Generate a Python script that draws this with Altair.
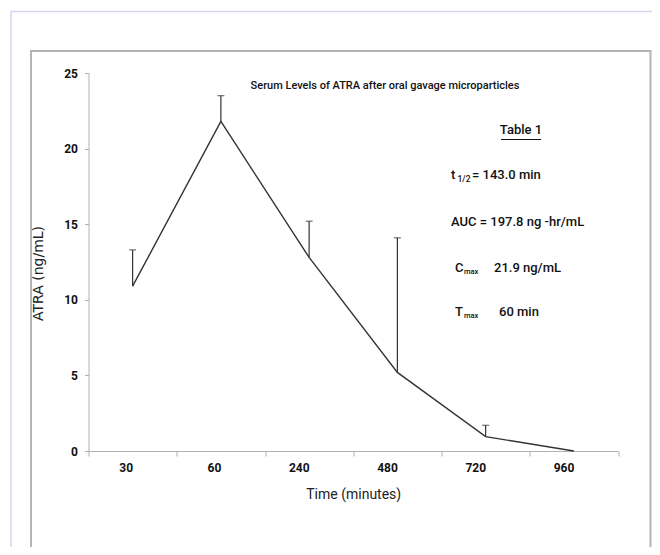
import altair as alt
import pandas as pd

times = ["30", "60", "240", "480", "720", "960"]
mean_vals = [10.9, 21.8, 12.8, 5.2, 0.95, 0.0]
upper_vals = [13.3, 23.5, 15.2, 14.1, 1.7, None]

title_text = "Serum Levels of ATRA after oral gavage microparticles"
table_title = "Table 1"
ann_main = ["t", "= 143.0 min", "AUC = 197.8 ng -hr/mL", "C", "21.9 ng/mL", "T", "60 min"]
ann_sub = ["1/2", "max", "max"]

FONT = "Roboto"

df = pd.DataFrame({"time": times, "mean": mean_vals, "upper": upper_vals})
err = df.dropna()

W, H = 529.5, 378
OX, OY = 88.5, 73  # page position of plot origin

def px(x):
    return x - OX

def py(y):
    return y - OY

xscale = alt.Scale(domain=times, paddingInner=0, paddingOuter=0)
yscale = alt.Scale(domain=[0, 25], nice=False)

xenc = alt.X("time:N", scale=xscale, sort=times,
             axis=alt.Axis(title="Time (minutes)", labelAngle=0, tickBand="extent",
                           labelFont=FONT, labelFontWeight="bold", labelFontSize=12,
                           labelColor="#111", labelPadding=11, tickSize=5,
                           domainColor="#b0b0b0", tickColor="#b0b0b0",
                           titleFont=FONT, titleFontWeight="normal", titleFontSize=14,
                           titleColor="#222", titlePadding=14))

line = alt.Chart(df).mark_line(color="#333", strokeWidth=1.4).encode(
    x=xenc,
    y=alt.Y("mean:Q", scale=yscale,
            axis=alt.Axis(title="ATRA  (ng/mL)", values=[0, 5, 10, 15, 20, 25],
                          labelFont=FONT, labelFontWeight="bold", labelFontSize=12,
                          labelColor="#111", labelPadding=7, tickSize=4,
                          domainColor="#b0b0b0", tickColor="#b0b0b0", grid=False,
                          titleFont="DejaVu Sans", titleFontWeight="normal",
                          titleFontSize=14, titleColor="#222",
                          titleX=px(38), titleY=py(273), titleAngle=270,
                          titleAlign="center", titleBaseline="middle")),
)

rules = alt.Chart(err).mark_rule(color="#333", strokeWidth=1.2).encode(
    x=alt.X("time:N", scale=xscale, sort=times),
    y="mean:Q", y2="upper:Q",
)
caps = alt.Chart(err).mark_tick(color="#333", orient="horizontal", size=7, thickness=1.2).encode(
    x=alt.X("time:N", scale=xscale, sort=times),
    y=alt.Y("upper:Q", scale=yscale),
)

frame_outer = alt.Chart(pd.DataFrame({"a": [0]})).mark_rect(
    fill=None, stroke="#d4d4f2", strokeWidth=1.5).encode(
    x=alt.value(px(11)), x2=alt.value(px(700)), y=alt.value(py(11.5)), y2=alt.value(py(700)))
frame_inner = alt.Chart(pd.DataFrame({"a": [0]})).mark_rect(
    fill=None, stroke="#b4b4b4", strokeWidth=2).encode(
    x=alt.value(px(31)), x2=alt.value(px(650.5)), y=alt.value(py(51)), y2=alt.value(py(700)))

def txt(s, x, y, size=14, weight=500, align="left"):
    return alt.Chart(pd.DataFrame({"t": [s]})).mark_text(
        font=FONT, fontSize=size, fontWeight=weight, align=align, baseline="middle",
        color="#111").encode(text="t:N", x=alt.value(px(x)), y=alt.value(py(y)))

texts = [
    txt(title_text, 385, 86, size=11, align="center"),
    txt(table_title, 521, 130, size=13, align="center"),
    txt(ann_main[0], 451, 175, size=13),
    txt(ann_sub[0], 457.5, 179, size=8.5),
    txt(ann_main[1], 472, 175, size=13),
    txt(ann_main[2], 451, 222, size=13),
    txt(ann_main[3], 455, 268, size=13),
    txt(ann_sub[1], 464, 272, size=7.5),
    txt(ann_main[4], 494, 268, size=13),
    txt(ann_main[5], 455, 312, size=13),
    txt(ann_sub[2], 464, 316, size=7.5),
    txt(ann_main[6], 499, 312, size=13),
]
underline = alt.Chart(pd.DataFrame({"a": [0]})).mark_rule(color="#111", strokeWidth=1).encode(
    x=alt.value(px(501)), x2=alt.value(px(541)), y=alt.value(py(139.5)))

chart = alt.layer(frame_outer, frame_inner, rules, caps, line, underline, *texts).properties(
    width=W, height=H,
    padding={"left": OX - 8, "top": OY - 8, "right": 644 - (OX - 8) - W, "bottom": 539 - (OY - 8) - H},
    autosize=alt.AutoSizeParams(type="none"),
).configure_view(stroke=None)

chart.save("out.html", embed_options={"renderer": "svg", "actions": False})
